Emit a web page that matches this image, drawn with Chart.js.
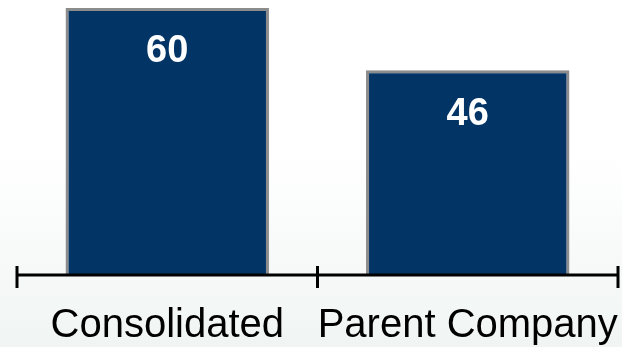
<!DOCTYPE html>
<html>
<head>
<meta charset="utf-8">
<script src="https://cdn.jsdelivr.net/npm/chart.js@4/dist/chart.umd.min.js"></script>
<style>
html, body { margin: 0; padding: 0; }
body {
    width: 622px; height: 347px; overflow: hidden;
    background: linear-gradient(to bottom, #ffffff 0%, #ffffff 45%, #f0f5f3 100%);
}
#wrap { position: relative; width: 622px; height: 347px; }
</style>
</head>
<body>
<div id="wrap"><canvas id="chart1" width="622" height="347"></canvas></div>
<script>
var categories = ['Consolidated', 'Parent Company'];
var values = [60, 46];

// draws the value inside each bar near its top
var barLabels = {
    id: 'barLabels',
    afterDatasetsDraw: function(chart) {
        var ctx = chart.ctx;
        var meta = chart.getDatasetMeta(0);
        ctx.save();
        ctx.fillStyle = '#ffffff';
        ctx.font = 'bold 38px "Liberation Sans", Arial, sans-serif';
        ctx.textAlign = 'center';
        ctx.textBaseline = 'middle';
        meta.data.forEach(function(bar, i) {
            ctx.fillText(String(values[i]), bar.x, bar.y + 44);
        });
        ctx.restore();
    }
};

// axis line with ticks crossing it at category boundaries
var axisLine = {
    id: 'axisLine',
    afterDatasetsDraw: function(chart) {
        var ctx = chart.ctx;
        var x = chart.scales.x;
        var y0 = chart.scales.y.getPixelForValue(0);
        ctx.save();
        ctx.strokeStyle = '#000000';
        ctx.lineWidth = 3;
        ctx.beginPath();
        ctx.moveTo(x.left, y0);
        ctx.lineTo(x.right, y0);
        var step = (x.right - x.left) / categories.length;
        for (var i = 0; i <= categories.length; i++) {
            var px = x.left + step * i;
            ctx.moveTo(px, y0 - 9);
            ctx.lineTo(px, y0 + 13);
        }
        ctx.stroke();
        ctx.restore();
    }
};

new Chart(document.getElementById('chart1').getContext('2d'), {
    type: 'bar',
    plugins: [barLabels, axisLine],
    data: {
        labels: categories,
        datasets: [{
            data: values,
            backgroundColor: '#033466',
            borderColor: '#8c8c8c',
            borderWidth: 3,
            barPercentage: 0.677,
            categoryPercentage: 1
        }]
    },
    options: {
        responsive: false,
        animation: false,
        layout: { padding: { left: 17, right: 4, top: 0, bottom: 0 } },
        plugins: { legend: { display: false }, tooltip: { enabled: false } },
        scales: {
            y: { display: false, min: 0, max: 61.8 },
            x: {
                grid: { display: false, drawTicks: false },
                border: { display: false },
                ticks: {
                    color: '#000000',
                    padding: 27,
                    autoSkip: false,
                    maxRotation: 0,
                    font: { size: 40, family: '"Liberation Sans", Arial, sans-serif' }
                },
                afterFit: function(scale) {
                    scale.height = 72;
                    scale.paddingLeft = 0;
                    scale.paddingRight = 0;
                    scale.paddingTop = 0;
                    scale.paddingBottom = 0;
                }
            }
        }
    }
});
</script>
</body>
</html>
